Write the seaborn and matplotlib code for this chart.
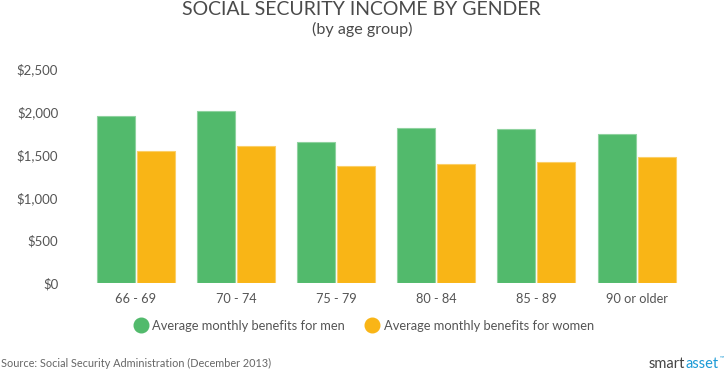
import matplotlib
matplotlib.use("Agg")
import matplotlib.pyplot as plt
from matplotlib.lines import Line2D
import seaborn as sns
import pandas as pd

# ---- data ----
age_groups = ["66 - 69", "70 - 74", "75 - 79", "80 - 84", "85 - 89", "90 or older"]
men_benefits = [1950, 2010, 1645, 1815, 1800, 1740]
women_benefits = [1545, 1598, 1370, 1392, 1415, 1470]
series_names = ["Average monthly benefits for men", "Average monthly benefits for women"]
y_ticks = [0, 500, 1000, 1500, 2000, 2500]
y_tick_labels = ["$0", "$500", "$1,000", "$1,500", "$2,000", "$2,500"]

GREEN = "#52BA6C"
YELLOW = "#F9B516"
TEXT = "#555555"

df = pd.DataFrame({
    "age": age_groups * 2,
    "value": men_benefits + women_benefits,
    "series": [series_names[0]] * len(age_groups) + [series_names[1]] * len(age_groups),
})

sns.set_theme(style="white")
FONT = ["Lato", "DejaVu Sans"]
plt.rcParams["font.family"] = FONT

fig = plt.figure(figsize=(7.26, 3.71), dpi=100)
ax = fig.add_axes([86 / 726, 1 - 283.3 / 371, 600.6 / 726, (283.3 - 68.8) / 371])

sns.barplot(data=df, x="age", y="value", hue="series", order=age_groups,
            hue_order=series_names, palette=[GREEN, YELLOW], width=0.8, gap=0.05,
            ax=ax, legend=False, saturation=1)

for patch in ax.patches:
    fc = patch.get_facecolor()
    light = tuple(min(1, c + (1 - c) * 0.35) for c in fc[:3])
    patch.set_edgecolor(light)
    patch.set_linewidth(0.8)

ax.set_xlim(-0.5, 5.5)
ax.set_ylim(0, 2500)
ax.set_yticks(y_ticks)
ax.set_yticklabels(y_tick_labels)
ax.set_xlabel("")
ax.set_ylabel("")
ax.tick_params(axis="both", length=0, colors=TEXT, labelsize=9.5)
ax.tick_params(axis="y", pad=20)
ax.tick_params(axis="x", pad=7, labelsize=9.2)
sns.despine(ax=ax, left=True, bottom=True, top=True, right=True)
ax.grid(False)

# titles
fig.text(361 / 726, 1 - 9.5 / 371, "SOCIAL SECURITY INCOME BY GENDER", ha="center", va="center",
         fontsize=14, color="#4a4a4a", family=FONT)
fig.text(362 / 726, 1 - 29.5 / 371, "(by age group)", ha="center", va="center",
         fontsize=11.6, color="#4a4a4a", family=FONT)

# legend
handles = [Line2D([0], [0], marker="o", linestyle="", markersize=10.5,
                  markerfacecolor=c, markeredgecolor=c) for c in (GREEN, YELLOW)]
fig.legend(handles, series_names, loc="center", bbox_to_anchor=(364 / 726, 1 - 325.5 / 371),
           ncol=2, frameon=False, fontsize=9.25, handletextpad=0.4, columnspacing=1.6,
           labelcolor=TEXT, handlelength=1.0)

# footer
fig.text(1 / 726, 1 - 363 / 371, "Source: Social Security Administration (December 2013)",
         ha="left", va="center", fontsize=7.8, color="#666666", family=FONT)
fig.text(685 / 726, 1 - 364 / 371, "smart", ha="right", va="center", fontsize=10.5,
         color="#444444", family=FONT)
fig.text(685 / 726, 1 - 364 / 371, "asset", ha="left", va="center", fontsize=10.5,
         color="#1B9AD6", family=FONT)
fig.text(720 / 726, 1 - 358 / 371, "™", ha="left", va="center", fontsize=4,
         color="#1B9AD6", family=FONT)

fig.savefig("out.png", dpi=100)
